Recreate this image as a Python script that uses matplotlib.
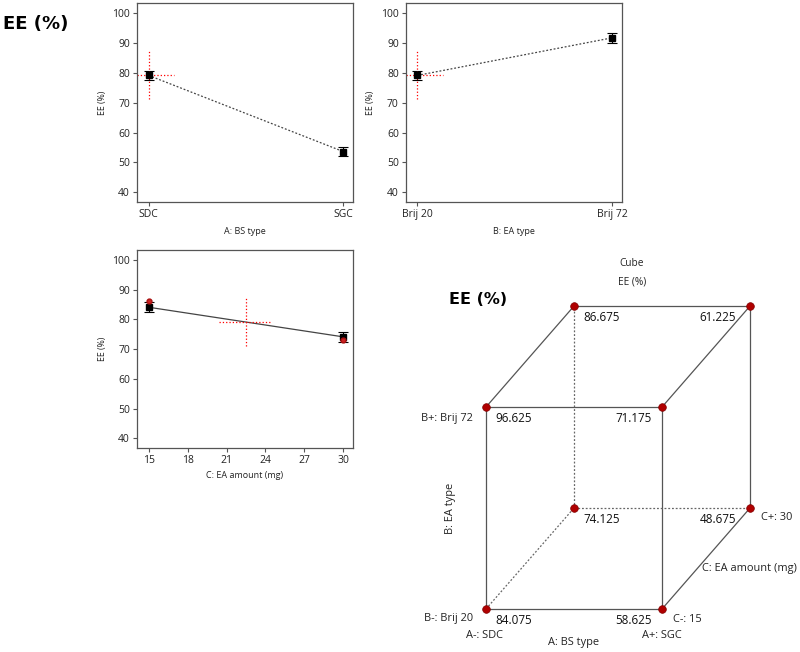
import matplotlib
matplotlib.use("Agg")
import matplotlib.pyplot as plt
import numpy as np
from matplotlib.transforms import offset_copy

plt.rcParams['font.family'] = ['Open Sans', 'DejaVu Sans']

# ---- data ----
a_levels = ["SDC", "SGC"]
a_means = [79.10, 53.65]
b_levels = ["Brij 20", "Brij 72"]
b_means = [79.10, 91.65]
c_levels = [15, 30]
c_means = [84.075, 74.125]
c_design = [86.1, 73.2]
err = 1.6
center_ee = 79.1
lsd_low, lsd_high = 71.1, 87.3
c_ticks = [15, 18, 21, 24, 27, 30]
y_ticks = [40, 50, 60, 70, 80, 90, 100]

# cube corner values keyed by (A, B, C) level index
cube_vals = {
    (0, 0, 0): 84.075, (1, 0, 0): 58.625,
    (0, 1, 0): 96.625, (1, 1, 0): 71.175,
    (0, 0, 1): 74.125, (1, 0, 1): 48.675,
    (0, 1, 1): 86.675, (1, 1, 1): 61.225,
}

W, H = 800, 652
fig = plt.figure(figsize=(W / 100, H / 100), dpi=100)

def px_axes(x0, y0, x1, y1):
    return fig.add_axes([x0 / W, 1 - y1 / H, (x1 - x0) / W, (y1 - y0) / H])

tick_col = '#222222'
spine_col = '#555555'

def style(ax):
    for s in ax.spines.values():
        s.set_color(spine_col)
        s.set_linewidth(0.9)
    ax.tick_params(direction='out', length=3, width=0.8, color=spine_col,
                   labelsize=7.5, labelcolor=tick_col, pad=2)
    ax.set_ylim(36.8, 103.3)
    ax.set_yticks(y_ticks)
    ax.set_ylabel("EE (%)", fontsize=6.3, color=tick_col, labelpad=4)

# Panel A
ax1 = px_axes(137, 3, 353, 202)
xa = np.arange(len(a_levels))
ax1.plot(xa, a_means, ls=(0, (1.5, 1.5)), color='#444444', lw=0.9)
ax1.errorbar(xa, a_means, yerr=err, fmt='s', color='black', ms=4.5, capsize=3.5, elinewidth=0.8, capthick=0.8)
ax1.plot([0, 0], [lsd_low, lsd_high], ls=':', color='red', lw=0.9)
ax1.plot([-0.06, 0.13], [center_ee, center_ee], ls=':', color='red', lw=0.9)
ax1.set_xlim(-0.06, 1.05)
ax1.set_xticks(xa)
ax1.set_xticklabels(a_levels)
style(ax1)
ax1.set_xlabel("A: BS type", fontsize=6.5, color=tick_col, labelpad=5)

# Panel B
ax2 = px_axes(405.7, 3, 621.7, 202)
xb = np.arange(len(b_levels))
ax2.plot(xb, b_means, ls=(0, (1.5, 1.5)), color='#444444', lw=0.9)
ax2.errorbar(xb, b_means, yerr=err, fmt='s', color='black', ms=4.5, capsize=3.5, elinewidth=0.8, capthick=0.8)
ax2.plot([0, 0], [lsd_low, lsd_high], ls=':', color='red', lw=0.9)
ax2.plot([-0.06, 0.13], [center_ee, center_ee], ls=':', color='red', lw=0.9)
ax2.set_xlim(-0.06, 1.05)
ax2.set_xticks(xb)
ax2.set_xticklabels(b_levels)
style(ax2)
ax2.set_xlabel("B: EA type", fontsize=6.5, color=tick_col, labelpad=5)

# Panel C
ax3 = px_axes(137, 250, 353, 448)
ax3.plot(c_levels, c_means, ls='-', color='#444444', lw=0.9)
ax3.errorbar(c_levels, c_means, yerr=err, fmt='s', color='black', ms=4.5, capsize=3.5, elinewidth=0.8, capthick=0.8, zorder=3)
ax3.plot(c_levels, c_design, 'o', color='#cc2222', ms=3.5, mec='#aa1111', zorder=4)
cmid = np.mean(c_levels)
ax3.plot([cmid, cmid], [lsd_low, lsd_high], ls=':', color='red', lw=0.9)
ax3.plot([20.4, 24.5], [center_ee, center_ee], ls=':', color='red', lw=0.9)
ax3.set_xlim(15 - 0.06 * 15, 30 + 0.05 * 15)
ax3.set_xticks(c_ticks)
style(ax3)
ax3.set_xlabel("C: EA amount (mg)", fontsize=6.5, color=tick_col, labelpad=4)

# Big bold title
fig.text(3 / W, 1 - 24 / H, "EE (%)", fontsize=13, fontweight='heavy', family='DejaVu Sans', va='center', ha='left')

# Cube
axc = px_axes(400, 260, 800, 652)
axc.set_xlim(-0.4886, 1.784)
axc.set_ylim(-0.2129, 1.728)
axc.axis('off')

def proj(a, b, c):
    return a + 0.5 * c, b + 0.5 * c

edges_solid = [((0,0,0),(1,0,0)), ((0,0,0),(0,1,0)), ((1,0,0),(1,1,0)), ((0,1,0),(1,1,0)),
               ((0,1,0),(0,1,1)), ((1,1,0),(1,1,1)), ((0,1,1),(1,1,1)),
               ((1,1,1),(1,0,1)), ((1,0,0),(1,0,1))]
edges_dot = [((0,0,0),(0,0,1)), ((0,0,1),(1,0,1)), ((0,0,1),(0,1,1))]
for p, q in edges_solid:
    x0, y0 = proj(*p); x1, y1 = proj(*q)
    axc.plot([x0, x1], [y0, y1], color='#555555', lw=0.9, solid_capstyle='butt')
for p, q in edges_dot:
    x0, y0 = proj(*p); x1, y1 = proj(*q)
    axc.plot([x0, x1], [y0, y1], color='#666666', lw=0.9, ls=(0, (1.5, 1.5)))
for key in cube_vals:
    x, y = proj(*key)
    axc.plot(x, y, 'o', color='#b00000', ms=5.5, mec='#800000', mew=0.5, zorder=5)

for key, v in cube_vals.items():
    x, y = proj(*key)
    if key[0] == 0:
        tr = offset_copy(axc.transData, fig=fig, x=9, y=-11, units='dots')
        ha = 'left'
    else:
        tr = offset_copy(axc.transData, fig=fig, x=-10 if key[2] == 0 else -14, y=-11, units='dots')
        ha = 'right'
    axc.text(x, y, f"{v:.3f}", transform=tr, ha=ha, va='center', fontsize=8.4, color='#111111')

def ptext(px, py, s, **kw):
    fig.text(px / W, 1 - py / H, s, **kw)

tc = '#222222'
fs = 7.9
ptext(632, 263, "Cube", ha='center', va='center', fontsize=7.3, color=tc)
ptext(632, 282, "EE (%)", ha='center', va='center', fontsize=7.3, color=tc)
ptext(449, 300, "EE (%)", ha='left', va='center', fontsize=11.5, fontweight='heavy', family='DejaVu Sans')
ptext(473, 418, "B+: Brij 72", ha='right', va='center', fontsize=fs, color=tc)
ptext(473, 619, "B-: Brij 20", ha='right', va='center', fontsize=fs, color=tc)
ptext(761, 517, "C+: 30", ha='left', va='center', fontsize=fs, color=tc)
ptext(673, 620, "C-: 15", ha='left', va='center', fontsize=fs, color=tc)
ptext(702, 568, "C: EA amount (mg)", ha='left', va='center', fontsize=fs, color=tc)
ptext(485, 636, "A-: SDC", ha='center', va='center', fontsize=fs, color=tc)
ptext(662, 636, "A+: SGC", ha='center', va='center', fontsize=fs, color=tc)
ptext(574, 643, "A: BS type", ha='center', va='center', fontsize=fs, color=tc)
ptext(451, 508, "B: EA type", ha='center', va='center', fontsize=fs, color=tc, rotation=90)

fig.savefig("out.png", dpi=100)
